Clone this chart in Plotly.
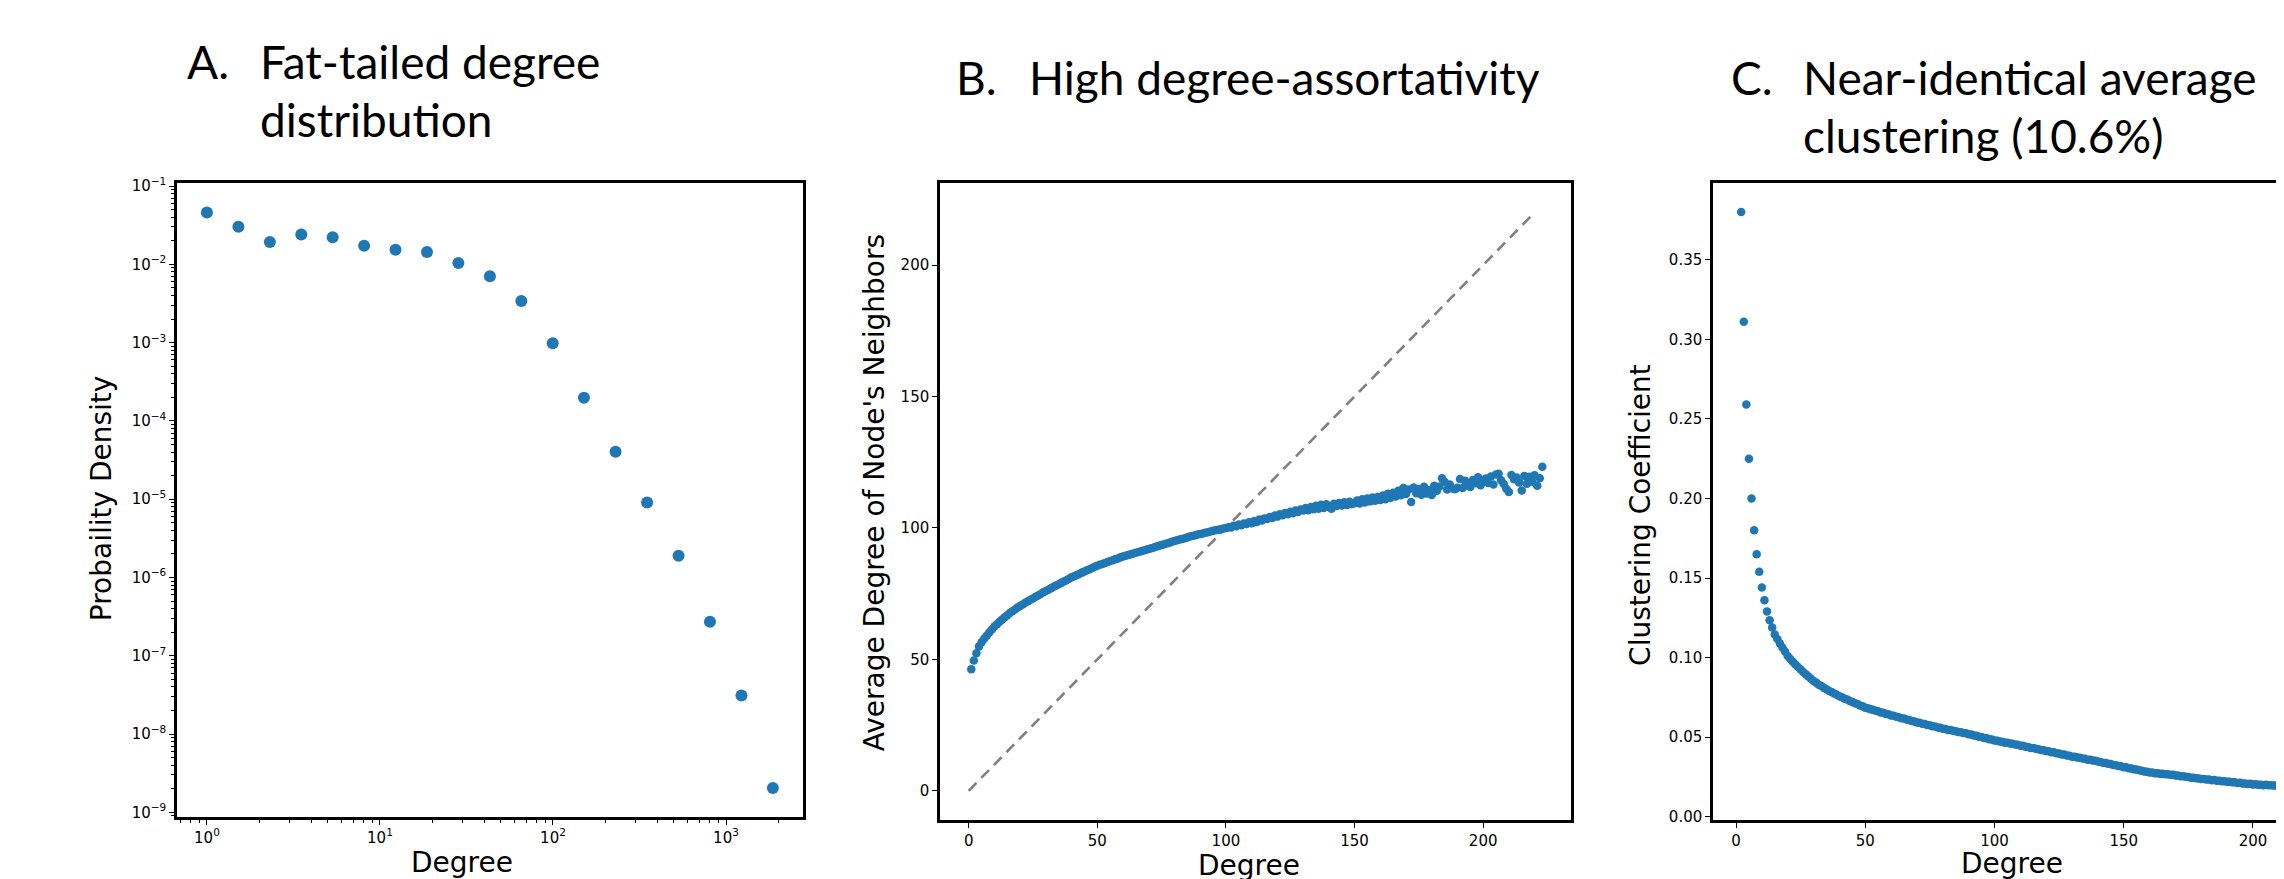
import plotly.graph_objects as go

W, H = 2284, 879

# ---------------- Panel A: degree distribution (log-log) ----------------
deg_bins = [1, 1.52, 2.31, 3.51, 5.33, 8.1, 12.3, 18.7, 28.4, 43.2, 65.6, 99.7,
            151, 230, 350, 532, 808, 1228, 1866]
prob_density = [0.0458, 0.0301, 0.0193, 0.0240, 0.0221, 0.0173, 0.0154, 0.0144,
                0.0104, 0.00703, 0.00340, 0.000984, 0.000198, 4.04e-5, 9.05e-6,
                1.90e-6, 2.72e-7, 3.11e-8, 2.05e-9]
a_xtick_vals = [1, 10, 100, 1000]
a_xtick_text = ["10<sup>0</sup>", "10<sup>1</sup>", "10<sup>2</sup>", "10<sup>3</sup>"]
a_ytick_vals = [1e-9, 1e-8, 1e-7, 1e-6, 1e-5, 1e-4, 1e-3, 1e-2, 1e-1]
a_ytick_text = ["10<sup>−9</sup>", "10<sup>−8</sup>", "10<sup>−7</sup>", "10<sup>−6</sup>",
                "10<sup>−5</sup>", "10<sup>−4</sup>", "10<sup>−3</sup>", "10<sup>−2</sup>",
                "10<sup>−1</sup>"]

# ---------------- Panel B: degree assortativity ----------------
b_degree = list(range(1, 224))
b_neighbor_avg = [
    46.2, 49.6, 52.3, 54.9, 56.5, 57.8, 59.0, 60.2, 61.4, 62.5,
    63.4, 64.3, 65.2, 66.0, 66.8, 67.6, 68.3, 69.0, 69.7, 70.3,
    70.9, 71.5, 72.1, 72.7, 73.2, 73.8, 74.3, 74.9, 75.5, 76.0,
    76.5, 77.1, 77.6, 78.1, 78.6, 79.1, 79.6, 80.1, 80.7, 81.2,
    81.6, 82.1, 82.5, 83.0, 83.4, 83.9, 84.3, 84.8, 85.2, 85.6,
    86.0, 86.3, 86.7, 87.0, 87.4, 87.7, 88.1, 88.4, 88.8, 89.1,
    89.4, 89.7, 90.0, 90.3, 90.6, 90.8, 91.1, 91.4, 91.7, 92.0,
    92.3, 92.6, 92.9, 93.2, 93.5, 93.8, 94.1, 94.4, 94.7, 95.0,
    95.3, 95.6, 95.8, 96.1, 96.4, 96.7, 96.9, 97.2, 97.5, 97.7,
    97.9, 98.2, 98.4, 98.6, 98.9, 99.1, 99.3, 99.5, 99.8, 100.0,
    100.3, 100.2, 100.8, 100.6, 101.3, 101.0, 101.7, 101.5, 102.2, 101.8,
    102.6, 102.3, 103.2, 102.8, 103.6, 103.4, 104.2, 103.8, 104.7, 104.3,
    105.2, 104.8, 105.7, 105.2, 106.2, 105.6, 106.6, 106.1, 107.0, 106.6,
    107.6, 106.7, 108.0, 107.1, 108.4, 107.3, 108.8, 107.6, 109.0, 108.0,
    107.3, 109.2, 108.3, 109.5, 108.5, 109.8, 108.7, 110.0, 109.1, 109.4,
    110.4, 109.3, 110.9, 109.7, 111.2, 110.1, 111.6, 110.3, 111.8, 110.6,
    112.3, 110.9, 113.0, 111.5, 113.4, 112.0, 114.1, 112.4, 115.2, 112.9,
    114.6, 109.9, 115.4, 113.2, 114.8, 112.6, 115.7, 113.1, 114.3, 112.5,
    116.0, 114.1, 115.8, 118.9, 117.6, 114.6, 116.5, 115.0, 114.7, 115.3,
    118.6, 115.2, 117.9, 116.1, 115.6, 118.2, 117.0, 119.3, 116.2, 117.5,
    118.8, 117.1, 119.6, 116.5, 120.3, 120.6, 118.1, 116.7, 114.9, 113.7,
    120.1, 118.5, 119.2, 117.3, 114.2, 119.8, 116.8, 119.5, 117.6, 120.0,
    116.0, 118.9, 123.3,
]
b_identity = [0, 220]

# ---------------- Panel C: clustering vs degree ----------------
c_degree = list(range(2, 223))
c_clustering = [
    0.380, 0.311, 0.259, 0.225, 0.200, 0.180, 0.165, 0.154, 0.144, 0.136,
    0.129, 0.1235, 0.119, 0.1146, 0.1117, 0.1088, 0.1062, 0.1037, 0.1011, 0.0992,
    0.0974, 0.0957, 0.0941, 0.0925, 0.0910, 0.0895, 0.0881, 0.0867, 0.0853,
    0.0843, 0.0830, 0.0822, 0.0810, 0.0802, 0.0791, 0.0784, 0.0774, 0.0767, 0.0757,
    0.0751, 0.0742, 0.0737, 0.0727, 0.0722, 0.0713, 0.0708, 0.0699, 0.0694, 0.0685,
    0.0682, 0.0675, 0.0672, 0.0666, 0.0663, 0.0656, 0.0653, 0.0646, 0.0644, 0.0637,
    0.0635, 0.0628, 0.0626, 0.0619, 0.0617, 0.0611, 0.0608, 0.0602, 0.0599, 0.0593,
    0.0591, 0.0585, 0.0583, 0.0577, 0.0575, 0.0569, 0.0567, 0.0561, 0.0559, 0.0553,
    0.0552, 0.0546, 0.0545, 0.0540, 0.0538, 0.0533, 0.0531, 0.0526, 0.0525, 0.0519,
    0.0517, 0.0511, 0.0509, 0.0503, 0.0501, 0.0495, 0.0493, 0.0487, 0.0485, 0.0479,
    0.0478, 0.0473, 0.0472, 0.0466, 0.0465, 0.0460, 0.0459, 0.0454, 0.0452, 0.0447,
    0.0446, 0.0440, 0.0439, 0.0433, 0.0432, 0.0427, 0.0425, 0.0420, 0.0418, 0.0413,
    0.0412, 0.0406, 0.0405, 0.0399, 0.0398, 0.0392, 0.0391, 0.0385, 0.0384, 0.0378,
    0.0377, 0.0372, 0.0371, 0.0366, 0.0365, 0.0359, 0.0358, 0.0353, 0.0352, 0.0347,
    0.0345, 0.0340, 0.0338, 0.0333, 0.0331, 0.0326, 0.0324, 0.0319, 0.0317, 0.0312,
    0.0311, 0.0305, 0.0304, 0.0298, 0.0297, 0.0292, 0.0290, 0.0285, 0.0283, 0.0278,
    0.0278, 0.0274, 0.0274, 0.0271, 0.0271, 0.0267, 0.0267, 0.0264, 0.0264, 0.0260,
    0.0260, 0.0255, 0.0255, 0.0251, 0.0250, 0.0246, 0.0246, 0.0242, 0.0241, 0.0237,
    0.0237, 0.0234, 0.0234, 0.0230, 0.0231, 0.0227, 0.0227, 0.0223, 0.0224, 0.0220,
    0.0220, 0.0217, 0.0217, 0.0213, 0.0214, 0.0210, 0.0210, 0.0206, 0.0207, 0.0203,
    0.0204, 0.0201, 0.0202, 0.0199, 0.0201, 0.0198, 0.0199, 0.0196, 0.0197, 0.0194,
    0.0196, 0.0195, 0.0197, 0.0196, 0.0199, 0.0197, 0.0199, 0.0196, 0.0198, 0.0195,
    0.0197, 0.0194,
]

titles_letter = ["A.", "B.", "C."]
titles_body = [["Fat-tailed degree", "distribution"],
               ["High degree-assortativity"],
               ["Near-identical average", "clustering (10.6%)"]]
x_labels = ["Degree", "Degree", "Degree"]
y_labels = ["Probaility Density", "Average Degree of Node's Neighbors", "Clustering Coefficient"]

BLUE = "#1f77b4"
TICKFONT = dict(family="DejaVu Sans", size=15, color="black")

def px_x(p):
    return p / W

def px_y(p):
    return 1 - p / H

fig = go.Figure()

fig.add_trace(go.Scatter(x=deg_bins, y=prob_density, mode="markers",
                         marker=dict(color=BLUE, size=12), xaxis="x", yaxis="y",
                         showlegend=False))
fig.add_trace(go.Scatter(x=b_identity, y=b_identity, mode="lines",
                         line=dict(color="#808080", width=2.6, dash="11px,7px"),
                         xaxis="x2", yaxis="y2", showlegend=False))
fig.add_trace(go.Scatter(x=b_degree, y=b_neighbor_avg, mode="markers",
                         marker=dict(color=BLUE, size=8.5), xaxis="x2", yaxis="y2",
                         showlegend=False))
fig.add_trace(go.Scatter(x=c_degree, y=c_clustering, mode="markers",
                         marker=dict(color=BLUE, size=8.5), xaxis="x3", yaxis="y3",
                         showlegend=False))

axis_common = dict(showgrid=False, zeroline=False, showline=True, linecolor="black",
                   linewidth=2.5, ticks="outside", ticklen=5, tickwidth=1.2,
                   tickcolor="black", tickfont=TICKFONT)

minor_log_x = [m * 10 ** e for e in range(-1, 4) for m in range(2, 10)]
minor_log_y = [m * 10 ** e for e in range(-10, 0) for m in range(2, 10)]

fig.update_layout(
    width=W, height=H, autosize=False,
    margin=dict(l=0, r=0, t=0, b=0),
    paper_bgcolor="white", plot_bgcolor="white",
    xaxis=dict(axis_common, type="log", domain=[px_x(169), px_x(795)],
               range=[-0.173, 3.445], tickmode="array", tickvals=a_xtick_vals,
               ticktext=a_xtick_text, mirror=True, anchor="y",
               minor=dict(ticks="outside", ticklen=3, tickwidth=1, tickcolor="black",
                          tickmode="array", tickvals=minor_log_x, showgrid=False)),
    yaxis=dict(axis_common, type="log", domain=[px_y(814), px_y(170)],
               range=[-9.06, -0.965], tickmode="array", tickvals=a_ytick_vals,
               ticktext=a_ytick_text, mirror=True, anchor="x",
               minor=dict(ticks="outside", ticklen=3, tickwidth=1, tickcolor="black",
                          tickmode="array", tickvals=minor_log_y, showgrid=False)),
    xaxis2=dict(axis_common, domain=[px_x(932), px_x(1563)], range=[-11.15, 234.15],
                tickmode="array", tickvals=[0, 50, 100, 150, 200], mirror=True,
                anchor="y2"),
    yaxis2=dict(axis_common, domain=[px_y(817), px_y(170)], range=[-11.1, 231.1],
                tickmode="array", tickvals=[0, 50, 100, 150, 200], mirror=True,
                anchor="x2"),
    xaxis3=dict(axis_common, domain=[px_x(1705), 1.0], range=[-8.9, 215.1],
                tickmode="array", tickvals=[0, 50, 100, 150, 200], mirror=True,
                anchor="y3"),
    yaxis3=dict(axis_common, domain=[px_y(817), px_y(170)], range=[-0.002, 0.398],
                tickmode="array", tickvals=[0, 0.05, 0.1, 0.15, 0.2, 0.25, 0.3, 0.35],
                tickformat=".2f", mirror=False, anchor="x3"),
)

ann = []
TITLEFONT = dict(family="Lato", size=46, color="black")
letter_x = [177, 946, 1721]
body_x = [250, 1019, 1793]
title_line_y = [[46, 105], [62], [62, 121]]
for i in range(3):
    ann.append(dict(text=titles_letter[i], x=px_x(letter_x[i]), y=px_y(title_line_y[i][0]),
                    xref="paper", yref="paper", xanchor="left", yanchor="middle",
                    showarrow=False, font=TITLEFONT))
    for j, line in enumerate(titles_body[i]):
        ann.append(dict(text=line, x=px_x(body_x[i]), y=px_y(title_line_y[i][j]),
                        xref="paper", yref="paper", xanchor="left", yanchor="middle",
                        showarrow=False, font=TITLEFONT))

LABELFONT = dict(family="DejaVu Sans", size=28, color="black")
xl_pos = [(454, 860), (1241, 863), (2004, 861)]
yl_pos = [(93, 490), (866, 485), (1633, 507)]
for i in range(3):
    ann.append(dict(text=x_labels[i], x=px_x(xl_pos[i][0]), y=px_y(xl_pos[i][1]),
                    xref="paper", yref="paper", xanchor="center", yanchor="middle",
                    showarrow=False, font=LABELFONT))
    ann.append(dict(text=y_labels[i], x=px_x(yl_pos[i][0]), y=px_y(yl_pos[i][1]),
                    xref="paper", yref="paper", xanchor="center", yanchor="middle",
                    textangle=-90, showarrow=False, font=LABELFONT))

fig.update_layout(annotations=ann)

fig.write_html("out.html")
